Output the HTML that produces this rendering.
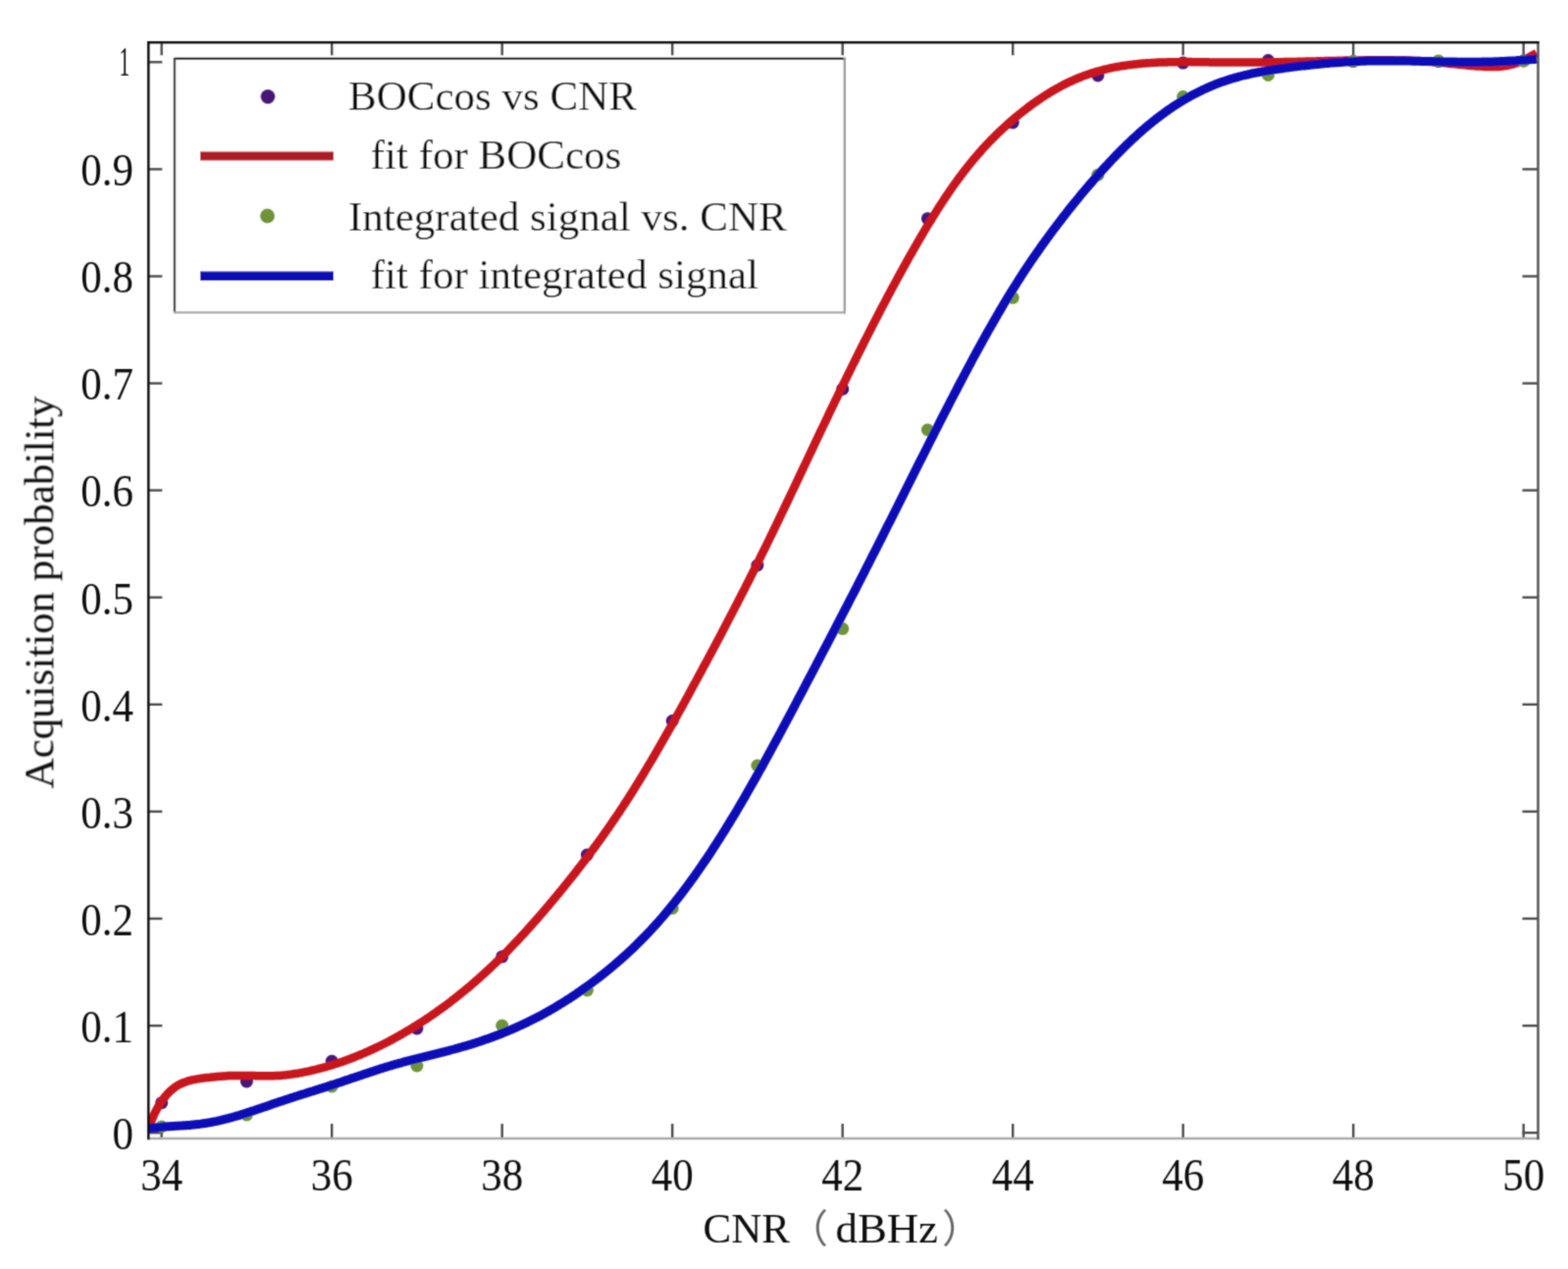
<!DOCTYPE html><html><head><meta charset="utf-8"><style>html,body{margin:0;padding:0;background:#fff;}svg{display:block;}</style></head><body>
<svg width="1598" height="1293" viewBox="0 0 1598 1293">
<rect width="1598" height="1293" fill="#fff"/>
<filter id="soft" x="0" y="0" width="1598" height="1293" filterUnits="userSpaceOnUse"><feConvolveMatrix order="3" kernelMatrix="0.04 0.1 0.04 0.1 0.44 0.1 0.04 0.1 0.04" edgeMode="duplicate" preserveAlpha="false"/></filter>
<g filter="url(#soft)">
<defs><clipPath id="ax"><rect x="151.3" y="43.3" width="1416.2" height="1116.7"/></clipPath></defs>
<g stroke="#4a4a4a" stroke-width="2.4"><line x1="151.3" y1="1154.2" x2="165.3" y2="1154.2"/><line x1="1567.5" y1="1154.2" x2="1551.5" y2="1154.2"/><line x1="151.3" y1="1045.1" x2="165.3" y2="1045.1"/><line x1="1567.5" y1="1045.1" x2="1551.5" y2="1045.1"/><line x1="151.3" y1="936.0" x2="165.3" y2="936.0"/><line x1="1567.5" y1="936.0" x2="1551.5" y2="936.0"/><line x1="151.3" y1="826.9" x2="165.3" y2="826.9"/><line x1="1567.5" y1="826.9" x2="1551.5" y2="826.9"/><line x1="151.3" y1="717.8" x2="165.3" y2="717.8"/><line x1="1567.5" y1="717.8" x2="1551.5" y2="717.8"/><line x1="151.3" y1="608.7" x2="165.3" y2="608.7"/><line x1="1567.5" y1="608.7" x2="1551.5" y2="608.7"/><line x1="151.3" y1="499.6" x2="165.3" y2="499.6"/><line x1="1567.5" y1="499.6" x2="1551.5" y2="499.6"/><line x1="151.3" y1="390.6" x2="165.3" y2="390.6"/><line x1="1567.5" y1="390.6" x2="1551.5" y2="390.6"/><line x1="151.3" y1="281.5" x2="165.3" y2="281.5"/><line x1="1567.5" y1="281.5" x2="1551.5" y2="281.5"/><line x1="151.3" y1="172.4" x2="165.3" y2="172.4"/><line x1="1567.5" y1="172.4" x2="1551.5" y2="172.4"/><line x1="151.3" y1="63.3" x2="165.3" y2="63.3"/><line x1="1567.5" y1="63.3" x2="1551.5" y2="63.3"/><line x1="164.7" y1="1160.0" x2="164.7" y2="1145.0"/><line x1="164.7" y1="43.3" x2="164.7" y2="56.3"/><line x1="338.2" y1="1160.0" x2="338.2" y2="1145.0"/><line x1="338.2" y1="43.3" x2="338.2" y2="56.3"/><line x1="511.7" y1="1160.0" x2="511.7" y2="1145.0"/><line x1="511.7" y1="43.3" x2="511.7" y2="56.3"/><line x1="685.2" y1="1160.0" x2="685.2" y2="1145.0"/><line x1="685.2" y1="43.3" x2="685.2" y2="56.3"/><line x1="858.7" y1="1160.0" x2="858.7" y2="1145.0"/><line x1="858.7" y1="43.3" x2="858.7" y2="56.3"/><line x1="1032.2" y1="1160.0" x2="1032.2" y2="1145.0"/><line x1="1032.2" y1="43.3" x2="1032.2" y2="56.3"/><line x1="1205.7" y1="1160.0" x2="1205.7" y2="1145.0"/><line x1="1205.7" y1="43.3" x2="1205.7" y2="56.3"/><line x1="1379.2" y1="1160.0" x2="1379.2" y2="1145.0"/><line x1="1379.2" y1="43.3" x2="1379.2" y2="56.3"/><line x1="1552.7" y1="1160.0" x2="1552.7" y2="1145.0"/><line x1="1552.7" y1="43.3" x2="1552.7" y2="56.3"/></g>
<g clip-path="url(#ax)">
<g fill="#4a1478"><circle cx="164.7" cy="1123.7" r="6.5"/><circle cx="251.4" cy="1102.0" r="6.5"/><circle cx="338.2" cy="1081.3" r="6.5"/><circle cx="424.9" cy="1048.0" r="6.5"/><circle cx="511.7" cy="974.8" r="6.5"/><circle cx="598.4" cy="871.0" r="6.5"/><circle cx="685.2" cy="734.5" r="6.5"/><circle cx="771.9" cy="576.0" r="6.5"/><circle cx="858.7" cy="396.4" r="6.5"/><circle cx="945.4" cy="222.7" r="6.5"/><circle cx="1032.2" cy="125.0" r="6.5"/><circle cx="1118.9" cy="77.0" r="6.5"/><circle cx="1205.7" cy="64.1" r="6.5"/><circle cx="1292.4" cy="61.5" r="6.5"/><circle cx="1379.2" cy="62.5" r="6.5"/><circle cx="1465.9" cy="62.5" r="6.5"/><circle cx="1552.7" cy="62.0" r="6.5"/></g>
<path d="M151.0 1152.0 L153.0 1145.6 L155.0 1140.2 L157.0 1135.6 L159.0 1131.6 L161.0 1128.0 L163.0 1124.7 L165.0 1121.7 L167.0 1119.0 L169.0 1116.5 L171.0 1114.2 L173.0 1112.2 L175.0 1110.4 L177.0 1108.7 L179.0 1107.3 L181.0 1106.0 L183.0 1104.9 L185.0 1104.0 L187.0 1103.1 L189.0 1102.4 L191.0 1101.7 L193.0 1101.2 L195.0 1100.7 L197.0 1100.2 L199.0 1099.8 L201.0 1099.4 L203.0 1099.1 L205.0 1098.8 L207.0 1098.6 L209.0 1098.3 L211.0 1098.1 L213.0 1097.9 L215.0 1097.6 L217.0 1097.4 L219.0 1097.2 L221.0 1097.0 L223.0 1096.8 L225.0 1096.7 L227.0 1096.5 L229.0 1096.4 L231.0 1096.3 L233.0 1096.1 L235.0 1096.0 L237.0 1096.0 L239.0 1095.9 L241.0 1095.9 L243.0 1095.9 L245.0 1095.9 L247.0 1095.9 L249.0 1095.9 L251.0 1095.9 L253.0 1096.0 L255.0 1096.0 L257.0 1096.1 L259.0 1096.1 L261.0 1096.2 L263.0 1096.2 L265.0 1096.3 L267.0 1096.3 L269.0 1096.3 L271.0 1096.3 L273.0 1096.3 L275.0 1096.3 L277.0 1096.3 L279.0 1096.2 L281.0 1096.1 L283.0 1096.0 L285.0 1095.9 L287.0 1095.7 L289.0 1095.6 L291.0 1095.4 L293.0 1095.1 L295.0 1094.9 L297.0 1094.6 L299.0 1094.3 L301.0 1094.0 L303.0 1093.7 L305.0 1093.4 L307.0 1093.0 L309.0 1092.6 L311.0 1092.2 L313.0 1091.8 L315.0 1091.4 L317.0 1090.9 L319.0 1090.4 L321.0 1090.0 L323.0 1089.5 L325.0 1088.9 L327.0 1088.4 L329.0 1087.9 L331.0 1087.3 L333.0 1086.8 L335.0 1086.2 L337.0 1085.6 L339.0 1085.0 L341.0 1084.3 L343.0 1083.7 L345.0 1083.0 L347.0 1082.4 L349.0 1081.7 L351.0 1081.0 L353.0 1080.2 L355.0 1079.5 L357.0 1078.8 L359.0 1078.0 L361.0 1077.2 L363.0 1076.4 L365.0 1075.6 L367.0 1074.8 L369.0 1073.9 L371.0 1073.1 L373.0 1072.2 L375.0 1071.3 L377.0 1070.4 L379.0 1069.5 L381.0 1068.6 L383.0 1067.6 L385.0 1066.7 L387.0 1065.7 L389.0 1064.7 L391.0 1063.7 L393.0 1062.7 L395.0 1061.7 L397.0 1060.6 L399.0 1059.6 L401.0 1058.5 L403.0 1057.4 L405.0 1056.3 L407.0 1055.2 L409.0 1054.0 L411.0 1052.9 L413.0 1051.7 L415.0 1050.5 L417.0 1049.3 L419.0 1048.1 L421.0 1046.9 L423.0 1045.6 L425.0 1044.4 L427.0 1043.1 L429.0 1041.8 L431.0 1040.5 L433.0 1039.2 L435.0 1037.9 L437.0 1036.5 L439.0 1035.2 L441.0 1033.8 L443.0 1032.4 L445.0 1031.0 L447.0 1029.6 L449.0 1028.2 L451.0 1026.7 L453.0 1025.3 L455.0 1023.8 L457.0 1022.3 L459.0 1020.8 L461.0 1019.2 L463.0 1017.7 L465.0 1016.1 L467.0 1014.5 L469.0 1012.9 L471.0 1011.3 L473.0 1009.7 L475.0 1008.0 L477.0 1006.4 L479.0 1004.7 L481.0 1003.0 L483.0 1001.3 L485.0 999.5 L487.0 997.8 L489.0 996.0 L491.0 994.2 L493.0 992.4 L495.0 990.5 L497.0 988.7 L499.0 986.8 L501.0 984.9 L503.0 983.0 L505.0 981.1 L507.0 979.2 L509.0 977.2 L511.0 975.2 L513.0 973.2 L515.0 971.2 L517.0 969.2 L519.0 967.1 L521.0 965.0 L523.0 962.9 L525.0 960.8 L527.0 958.7 L529.0 956.6 L531.0 954.4 L533.0 952.3 L535.0 950.1 L537.0 947.9 L539.0 945.7 L541.0 943.4 L543.0 941.2 L545.0 938.9 L547.0 936.6 L549.0 934.4 L551.0 932.0 L553.0 929.7 L555.0 927.4 L557.0 925.0 L559.0 922.7 L561.0 920.3 L563.0 917.9 L565.0 915.5 L567.0 913.1 L569.0 910.7 L571.0 908.3 L573.0 905.8 L575.0 903.3 L577.0 900.9 L579.0 898.4 L581.0 895.9 L583.0 893.4 L585.0 890.8 L587.0 888.3 L589.0 885.7 L591.0 883.1 L593.0 880.5 L595.0 877.9 L597.0 875.3 L599.0 872.7 L601.0 870.0 L603.0 867.3 L605.0 864.6 L607.0 861.9 L609.0 859.1 L611.0 856.4 L613.0 853.6 L615.0 850.8 L617.0 848.0 L619.0 845.1 L621.0 842.3 L623.0 839.4 L625.0 836.4 L627.0 833.5 L629.0 830.5 L631.0 827.6 L633.0 824.5 L635.0 821.5 L637.0 818.4 L639.0 815.4 L641.0 812.2 L643.0 809.1 L645.0 805.9 L647.0 802.7 L649.0 799.5 L651.0 796.3 L653.0 793.0 L655.0 789.7 L657.0 786.4 L659.0 783.1 L661.0 779.7 L663.0 776.4 L665.0 773.0 L667.0 769.6 L669.0 766.1 L671.0 762.7 L673.0 759.2 L675.0 755.7 L677.0 752.2 L679.0 748.7 L681.0 745.2 L683.0 741.6 L685.0 738.1 L687.0 734.5 L689.0 730.9 L691.0 727.3 L693.0 723.7 L695.0 720.1 L697.0 716.5 L699.0 712.8 L701.0 709.2 L703.0 705.5 L705.0 701.8 L707.0 698.1 L709.0 694.5 L711.0 690.8 L713.0 687.1 L715.0 683.4 L717.0 679.6 L719.0 675.9 L721.0 672.2 L723.0 668.5 L725.0 664.7 L727.0 661.0 L729.0 657.2 L731.0 653.4 L733.0 649.7 L735.0 645.9 L737.0 642.1 L739.0 638.3 L741.0 634.4 L743.0 630.6 L745.0 626.8 L747.0 622.9 L749.0 619.1 L751.0 615.2 L753.0 611.3 L755.0 607.4 L757.0 603.5 L759.0 599.6 L761.0 595.6 L763.0 591.7 L765.0 587.7 L767.0 583.8 L769.0 579.8 L771.0 575.8 L773.0 571.8 L775.0 567.7 L777.0 563.7 L779.0 559.6 L781.0 555.6 L783.0 551.5 L785.0 547.4 L787.0 543.3 L789.0 539.1 L791.0 535.0 L793.0 530.8 L795.0 526.7 L797.0 522.5 L799.0 518.3 L801.0 514.1 L803.0 509.9 L805.0 505.7 L807.0 501.5 L809.0 497.3 L811.0 493.1 L813.0 488.9 L815.0 484.7 L817.0 480.4 L819.0 476.2 L821.0 472.0 L823.0 467.7 L825.0 463.5 L827.0 459.3 L829.0 455.1 L831.0 450.8 L833.0 446.6 L835.0 442.4 L837.0 438.2 L839.0 434.0 L841.0 429.8 L843.0 425.6 L845.0 421.4 L847.0 417.2 L849.0 413.1 L851.0 408.9 L853.0 404.8 L855.0 400.6 L857.0 396.5 L859.0 392.4 L861.0 388.3 L863.0 384.2 L865.0 380.1 L867.0 376.1 L869.0 372.0 L871.0 368.0 L873.0 364.0 L875.0 360.0 L877.0 356.0 L879.0 352.0 L881.0 348.0 L883.0 344.1 L885.0 340.1 L887.0 336.2 L889.0 332.3 L891.0 328.4 L893.0 324.5 L895.0 320.7 L897.0 316.8 L899.0 313.0 L901.0 309.2 L903.0 305.4 L905.0 301.6 L907.0 297.9 L909.0 294.1 L911.0 290.4 L913.0 286.7 L915.0 283.0 L917.0 279.4 L919.0 275.7 L921.0 272.1 L923.0 268.5 L925.0 264.9 L927.0 261.3 L929.0 257.8 L931.0 254.3 L933.0 250.8 L935.0 247.3 L937.0 243.9 L939.0 240.5 L941.0 237.1 L943.0 233.7 L945.0 230.4 L947.0 227.1 L949.0 223.9 L951.0 220.6 L953.0 217.4 L955.0 214.3 L957.0 211.1 L959.0 208.0 L961.0 205.0 L963.0 201.9 L965.0 199.0 L967.0 196.0 L969.0 193.1 L971.0 190.2 L973.0 187.4 L975.0 184.6 L977.0 181.9 L979.0 179.2 L981.0 176.5 L983.0 173.9 L985.0 171.4 L987.0 168.8 L989.0 166.4 L991.0 163.9 L993.0 161.5 L995.0 159.2 L997.0 156.9 L999.0 154.6 L1001.0 152.3 L1003.0 150.1 L1005.0 148.0 L1007.0 145.9 L1009.0 143.8 L1011.0 141.7 L1013.0 139.7 L1015.0 137.7 L1017.0 135.8 L1019.0 133.8 L1021.0 132.0 L1023.0 130.1 L1025.0 128.3 L1027.0 126.5 L1029.0 124.7 L1031.0 123.0 L1033.0 121.3 L1035.0 119.6 L1037.0 117.9 L1039.0 116.3 L1041.0 114.7 L1043.0 113.1 L1045.0 111.6 L1047.0 110.0 L1049.0 108.5 L1051.0 107.0 L1053.0 105.6 L1055.0 104.2 L1057.0 102.8 L1059.0 101.4 L1061.0 100.0 L1063.0 98.7 L1065.0 97.4 L1067.0 96.2 L1069.0 94.9 L1071.0 93.7 L1073.0 92.5 L1075.0 91.3 L1077.0 90.2 L1079.0 89.1 L1081.0 88.0 L1083.0 86.9 L1085.0 85.9 L1087.0 84.9 L1089.0 83.9 L1091.0 83.0 L1093.0 82.1 L1095.0 81.2 L1097.0 80.3 L1099.0 79.5 L1101.0 78.7 L1103.0 77.9 L1105.0 77.1 L1107.0 76.4 L1109.0 75.7 L1111.0 75.0 L1113.0 74.4 L1115.0 73.7 L1117.0 73.1 L1119.0 72.5 L1121.0 72.0 L1123.0 71.5 L1125.0 70.9 L1127.0 70.5 L1129.0 70.0 L1131.0 69.5 L1133.0 69.1 L1135.0 68.7 L1137.0 68.3 L1139.0 68.0 L1141.0 67.6 L1143.0 67.3 L1145.0 67.0 L1147.0 66.7 L1149.0 66.4 L1151.0 66.1 L1153.0 65.9 L1155.0 65.6 L1157.0 65.4 L1159.0 65.2 L1161.0 65.0 L1163.0 64.8 L1165.0 64.6 L1167.0 64.5 L1169.0 64.3 L1171.0 64.2 L1173.0 64.1 L1175.0 63.9 L1177.0 63.8 L1179.0 63.7 L1181.0 63.6 L1183.0 63.6 L1185.0 63.5 L1187.0 63.4 L1189.0 63.4 L1191.0 63.3 L1193.0 63.3 L1195.0 63.2 L1197.0 63.2 L1199.0 63.2 L1201.0 63.2 L1203.0 63.1 L1205.0 63.1 L1207.0 63.1 L1209.0 63.1 L1211.0 63.1 L1213.0 63.1 L1215.0 63.2 L1217.0 63.2 L1219.0 63.2 L1221.0 63.2 L1223.0 63.2 L1225.0 63.3 L1227.0 63.3 L1229.0 63.3 L1231.0 63.3 L1233.0 63.4 L1235.0 63.4 L1237.0 63.4 L1239.0 63.5 L1241.0 63.5 L1243.0 63.5 L1245.0 63.5 L1247.0 63.5 L1249.0 63.6 L1251.0 63.6 L1253.0 63.6 L1255.0 63.6 L1257.0 63.6 L1259.0 63.6 L1261.0 63.6 L1263.0 63.6 L1265.0 63.6 L1267.0 63.6 L1269.0 63.6 L1271.0 63.6 L1273.0 63.6 L1275.0 63.6 L1277.0 63.6 L1279.0 63.6 L1281.0 63.5 L1283.0 63.5 L1285.0 63.5 L1287.0 63.5 L1289.0 63.5 L1291.0 63.4 L1293.0 63.4 L1295.0 63.4 L1297.0 63.3 L1299.0 63.3 L1301.0 63.3 L1303.0 63.2 L1305.0 63.2 L1307.0 63.2 L1309.0 63.1 L1311.0 63.1 L1313.0 63.0 L1315.0 63.0 L1317.0 62.9 L1319.0 62.9 L1321.0 62.9 L1323.0 62.8 L1325.0 62.8 L1327.0 62.7 L1329.0 62.7 L1331.0 62.6 L1333.0 62.6 L1335.0 62.5 L1337.0 62.5 L1339.0 62.4 L1341.0 62.4 L1343.0 62.3 L1345.0 62.3 L1347.0 62.2 L1349.0 62.2 L1351.0 62.1 L1353.0 62.1 L1355.0 62.0 L1357.0 62.0 L1359.0 61.9 L1361.0 61.9 L1363.0 61.8 L1365.0 61.8 L1367.0 61.7 L1369.0 61.7 L1371.0 61.6 L1373.0 61.6 L1375.0 61.6 L1377.0 61.5 L1379.0 61.5 L1381.0 61.5 L1383.0 61.4 L1385.0 61.4 L1387.0 61.4 L1389.0 61.4 L1391.0 61.3 L1393.0 61.3 L1395.0 61.3 L1397.0 61.3 L1399.0 61.3 L1401.0 61.3 L1403.0 61.2 L1405.0 61.2 L1407.0 61.2 L1409.0 61.2 L1411.0 61.3 L1413.0 61.3 L1415.0 61.3 L1417.0 61.3 L1419.0 61.3 L1421.0 61.4 L1423.0 61.4 L1425.0 61.4 L1427.0 61.5 L1429.0 61.5 L1431.0 61.6 L1433.0 61.6 L1435.0 61.7 L1437.0 61.8 L1439.0 61.8 L1441.0 61.9 L1443.0 62.0 L1445.0 62.1 L1447.0 62.2 L1449.0 62.3 L1451.0 62.5 L1453.0 62.6 L1455.0 62.7 L1457.0 62.9 L1459.0 63.0 L1461.0 63.2 L1463.0 63.4 L1465.0 63.5 L1467.0 63.7 L1469.0 63.9 L1471.0 64.1 L1473.0 64.3 L1475.0 64.5 L1477.0 64.7 L1479.0 64.9 L1481.0 65.1 L1483.0 65.3 L1485.0 65.5 L1487.0 65.7 L1489.0 65.9 L1491.0 66.1 L1493.0 66.3 L1495.0 66.5 L1497.0 66.7 L1499.0 66.9 L1501.0 67.0 L1503.0 67.2 L1505.0 67.4 L1507.0 67.5 L1509.0 67.6 L1511.0 67.8 L1513.0 67.9 L1515.0 68.0 L1517.0 68.0 L1519.0 68.1 L1521.0 68.1 L1523.0 68.1 L1525.0 68.0 L1527.0 67.9 L1529.0 67.8 L1531.0 67.6 L1533.0 67.3 L1535.0 67.0 L1537.0 66.6 L1539.0 66.2 L1541.0 65.7 L1543.0 65.1 L1545.0 64.4 L1547.0 63.7 L1549.0 62.9 L1551.0 62.0 L1553.0 61.0 L1555.0 60.0 L1557.0 59.0 L1559.0 57.9 L1561.0 56.8 L1563.0 55.7 L1565.0 54.6 L1566.0 54.0" fill="none" stroke="#c8121f" stroke-width="8.5" stroke-linejoin="round"/>
<g fill="#6e9438"><circle cx="164.7" cy="1148.0" r="6.5"/><circle cx="251.4" cy="1136.0" r="6.5"/><circle cx="338.2" cy="1107.0" r="6.5"/><circle cx="424.9" cy="1086.0" r="6.5"/><circle cx="511.7" cy="1045.0" r="6.5"/><circle cx="598.4" cy="1009.0" r="6.5"/><circle cx="685.2" cy="925.5" r="6.5"/><circle cx="771.9" cy="780.0" r="6.5"/><circle cx="858.7" cy="640.6" r="6.5"/><circle cx="945.4" cy="438.0" r="6.5"/><circle cx="1032.2" cy="303.3" r="6.5"/><circle cx="1118.9" cy="178.2" r="6.5"/><circle cx="1205.7" cy="98.5" r="6.5"/><circle cx="1292.4" cy="76.5" r="6.5"/><circle cx="1379.2" cy="62.5" r="6.5"/><circle cx="1465.9" cy="62.1" r="6.5"/><circle cx="1552.7" cy="62.0" r="6.5"/></g>
<path d="M151.0 1149.7 L153.0 1149.5 L155.0 1149.3 L157.0 1149.1 L159.0 1148.9 L161.0 1148.7 L163.0 1148.5 L165.0 1148.3 L167.0 1148.1 L169.0 1148.0 L171.0 1147.8 L173.0 1147.7 L175.0 1147.5 L177.0 1147.4 L179.0 1147.3 L181.0 1147.2 L183.0 1147.1 L185.0 1146.9 L187.0 1146.8 L189.0 1146.7 L191.0 1146.5 L193.0 1146.4 L195.0 1146.2 L197.0 1146.0 L199.0 1145.8 L201.0 1145.6 L203.0 1145.4 L205.0 1145.1 L207.0 1144.8 L209.0 1144.5 L211.0 1144.2 L213.0 1143.8 L215.0 1143.5 L217.0 1143.1 L219.0 1142.7 L221.0 1142.3 L223.0 1141.8 L225.0 1141.4 L227.0 1140.9 L229.0 1140.4 L231.0 1139.9 L233.0 1139.4 L235.0 1138.8 L237.0 1138.3 L239.0 1137.7 L241.0 1137.1 L243.0 1136.6 L245.0 1136.0 L247.0 1135.3 L249.0 1134.7 L251.0 1134.1 L253.0 1133.4 L255.0 1132.8 L257.0 1132.1 L259.0 1131.5 L261.0 1130.8 L263.0 1130.1 L265.0 1129.4 L267.0 1128.8 L269.0 1128.1 L271.0 1127.4 L273.0 1126.7 L275.0 1126.0 L277.0 1125.3 L279.0 1124.6 L281.0 1123.9 L283.0 1123.3 L285.0 1122.6 L287.0 1121.9 L289.0 1121.2 L291.0 1120.6 L293.0 1119.9 L295.0 1119.2 L297.0 1118.6 L299.0 1118.0 L301.0 1117.3 L303.0 1116.7 L305.0 1116.0 L307.0 1115.4 L309.0 1114.8 L311.0 1114.2 L313.0 1113.5 L315.0 1112.9 L317.0 1112.3 L319.0 1111.7 L321.0 1111.0 L323.0 1110.4 L325.0 1109.8 L327.0 1109.1 L329.0 1108.5 L331.0 1107.9 L333.0 1107.2 L335.0 1106.6 L337.0 1106.0 L339.0 1105.3 L341.0 1104.7 L343.0 1104.0 L345.0 1103.3 L347.0 1102.7 L349.0 1102.0 L351.0 1101.3 L353.0 1100.6 L355.0 1100.0 L357.0 1099.3 L359.0 1098.6 L361.0 1097.9 L363.0 1097.2 L365.0 1096.6 L367.0 1095.9 L369.0 1095.2 L371.0 1094.5 L373.0 1093.9 L375.0 1093.2 L377.0 1092.5 L379.0 1091.9 L381.0 1091.2 L383.0 1090.6 L385.0 1089.9 L387.0 1089.3 L389.0 1088.6 L391.0 1088.0 L393.0 1087.4 L395.0 1086.8 L397.0 1086.2 L399.0 1085.6 L401.0 1085.0 L403.0 1084.4 L405.0 1083.9 L407.0 1083.3 L409.0 1082.8 L411.0 1082.2 L413.0 1081.7 L415.0 1081.2 L417.0 1080.6 L419.0 1080.1 L421.0 1079.6 L423.0 1079.1 L425.0 1078.6 L427.0 1078.1 L429.0 1077.6 L431.0 1077.1 L433.0 1076.6 L435.0 1076.1 L437.0 1075.6 L439.0 1075.1 L441.0 1074.6 L443.0 1074.1 L445.0 1073.6 L447.0 1073.1 L449.0 1072.6 L451.0 1072.1 L453.0 1071.6 L455.0 1071.1 L457.0 1070.6 L459.0 1070.0 L461.0 1069.5 L463.0 1069.0 L465.0 1068.4 L467.0 1067.9 L469.0 1067.3 L471.0 1066.7 L473.0 1066.2 L475.0 1065.6 L477.0 1065.0 L479.0 1064.4 L481.0 1063.7 L483.0 1063.1 L485.0 1062.5 L487.0 1061.8 L489.0 1061.2 L491.0 1060.5 L493.0 1059.8 L495.0 1059.1 L497.0 1058.4 L499.0 1057.7 L501.0 1057.0 L503.0 1056.2 L505.0 1055.5 L507.0 1054.7 L509.0 1054.0 L511.0 1053.2 L513.0 1052.4 L515.0 1051.6 L517.0 1050.7 L519.0 1049.9 L521.0 1049.1 L523.0 1048.2 L525.0 1047.3 L527.0 1046.4 L529.0 1045.5 L531.0 1044.6 L533.0 1043.7 L535.0 1042.7 L537.0 1041.8 L539.0 1040.8 L541.0 1039.8 L543.0 1038.8 L545.0 1037.8 L547.0 1036.8 L549.0 1035.7 L551.0 1034.7 L553.0 1033.6 L555.0 1032.5 L557.0 1031.4 L559.0 1030.3 L561.0 1029.1 L563.0 1028.0 L565.0 1026.8 L567.0 1025.6 L569.0 1024.4 L571.0 1023.2 L573.0 1022.0 L575.0 1020.7 L577.0 1019.4 L579.0 1018.2 L581.0 1016.9 L583.0 1015.6 L585.0 1014.2 L587.0 1012.9 L589.0 1011.5 L591.0 1010.1 L593.0 1008.7 L595.0 1007.3 L597.0 1005.9 L599.0 1004.5 L601.0 1003.0 L603.0 1001.5 L605.0 1000.0 L607.0 998.5 L609.0 997.0 L611.0 995.4 L613.0 993.9 L615.0 992.3 L617.0 990.7 L619.0 989.1 L621.0 987.4 L623.0 985.8 L625.0 984.1 L627.0 982.4 L629.0 980.7 L631.0 978.9 L633.0 977.2 L635.0 975.4 L637.0 973.6 L639.0 971.8 L641.0 969.9 L643.0 968.1 L645.0 966.2 L647.0 964.2 L649.0 962.3 L651.0 960.3 L653.0 958.3 L655.0 956.3 L657.0 954.3 L659.0 952.2 L661.0 950.1 L663.0 948.0 L665.0 945.8 L667.0 943.6 L669.0 941.4 L671.0 939.2 L673.0 936.9 L675.0 934.6 L677.0 932.3 L679.0 929.9 L681.0 927.5 L683.0 925.1 L685.0 922.6 L687.0 920.2 L689.0 917.6 L691.0 915.1 L693.0 912.5 L695.0 909.9 L697.0 907.3 L699.0 904.6 L701.0 901.9 L703.0 899.2 L705.0 896.4 L707.0 893.7 L709.0 890.9 L711.0 888.0 L713.0 885.2 L715.0 882.3 L717.0 879.3 L719.0 876.4 L721.0 873.4 L723.0 870.4 L725.0 867.4 L727.0 864.3 L729.0 861.3 L731.0 858.1 L733.0 855.0 L735.0 851.9 L737.0 848.7 L739.0 845.5 L741.0 842.2 L743.0 839.0 L745.0 835.7 L747.0 832.4 L749.0 829.1 L751.0 825.7 L753.0 822.3 L755.0 818.9 L757.0 815.5 L759.0 812.1 L761.0 808.6 L763.0 805.1 L765.0 801.6 L767.0 798.1 L769.0 794.5 L771.0 791.0 L773.0 787.4 L775.0 783.8 L777.0 780.2 L779.0 776.6 L781.0 772.9 L783.0 769.3 L785.0 765.6 L787.0 761.9 L789.0 758.2 L791.0 754.5 L793.0 750.8 L795.0 747.1 L797.0 743.4 L799.0 739.6 L801.0 735.9 L803.0 732.1 L805.0 728.3 L807.0 724.6 L809.0 720.8 L811.0 717.0 L813.0 713.2 L815.0 709.4 L817.0 705.6 L819.0 701.8 L821.0 698.0 L823.0 694.2 L825.0 690.4 L827.0 686.6 L829.0 682.8 L831.0 679.0 L833.0 675.2 L835.0 671.4 L837.0 667.5 L839.0 663.7 L841.0 659.9 L843.0 656.1 L845.0 652.2 L847.0 648.4 L849.0 644.6 L851.0 640.7 L853.0 636.9 L855.0 633.0 L857.0 629.2 L859.0 625.3 L861.0 621.4 L863.0 617.6 L865.0 613.7 L867.0 609.8 L869.0 606.0 L871.0 602.1 L873.0 598.2 L875.0 594.3 L877.0 590.4 L879.0 586.5 L881.0 582.6 L883.0 578.6 L885.0 574.7 L887.0 570.8 L889.0 566.8 L891.0 562.9 L893.0 559.0 L895.0 555.0 L897.0 551.0 L899.0 547.1 L901.0 543.1 L903.0 539.1 L905.0 535.1 L907.0 531.2 L909.0 527.2 L911.0 523.2 L913.0 519.2 L915.0 515.2 L917.0 511.2 L919.0 507.2 L921.0 503.2 L923.0 499.2 L925.0 495.3 L927.0 491.3 L929.0 487.3 L931.0 483.3 L933.0 479.3 L935.0 475.3 L937.0 471.3 L939.0 467.4 L941.0 463.4 L943.0 459.4 L945.0 455.4 L947.0 451.5 L949.0 447.5 L951.0 443.6 L953.0 439.6 L955.0 435.7 L957.0 431.8 L959.0 427.8 L961.0 423.9 L963.0 420.0 L965.0 416.1 L967.0 412.2 L969.0 408.3 L971.0 404.5 L973.0 400.6 L975.0 396.8 L977.0 392.9 L979.0 389.1 L981.0 385.3 L983.0 381.5 L985.0 377.8 L987.0 374.0 L989.0 370.3 L991.0 366.5 L993.0 362.8 L995.0 359.1 L997.0 355.5 L999.0 351.8 L1001.0 348.2 L1003.0 344.6 L1005.0 341.0 L1007.0 337.4 L1009.0 333.9 L1011.0 330.4 L1013.0 326.9 L1015.0 323.4 L1017.0 320.0 L1019.0 316.6 L1021.0 313.2 L1023.0 309.8 L1025.0 306.5 L1027.0 303.2 L1029.0 299.9 L1031.0 296.7 L1033.0 293.5 L1035.0 290.3 L1037.0 287.1 L1039.0 284.0 L1041.0 280.9 L1043.0 277.8 L1045.0 274.8 L1047.0 271.8 L1049.0 268.8 L1051.0 265.8 L1053.0 262.9 L1055.0 260.0 L1057.0 257.1 L1059.0 254.3 L1061.0 251.4 L1063.0 248.6 L1065.0 245.8 L1067.0 243.1 L1069.0 240.3 L1071.0 237.6 L1073.0 234.9 L1075.0 232.3 L1077.0 229.6 L1079.0 227.0 L1081.0 224.4 L1083.0 221.8 L1085.0 219.2 L1087.0 216.7 L1089.0 214.1 L1091.0 211.6 L1093.0 209.1 L1095.0 206.7 L1097.0 204.2 L1099.0 201.8 L1101.0 199.3 L1103.0 196.9 L1105.0 194.6 L1107.0 192.2 L1109.0 189.8 L1111.0 187.5 L1113.0 185.2 L1115.0 182.9 L1117.0 180.6 L1119.0 178.3 L1121.0 176.1 L1123.0 173.8 L1125.0 171.6 L1127.0 169.4 L1129.0 167.3 L1131.0 165.1 L1133.0 163.0 L1135.0 160.9 L1137.0 158.8 L1139.0 156.8 L1141.0 154.7 L1143.0 152.7 L1145.0 150.7 L1147.0 148.8 L1149.0 146.8 L1151.0 144.9 L1153.0 143.0 L1155.0 141.1 L1157.0 139.3 L1159.0 137.5 L1161.0 135.7 L1163.0 133.9 L1165.0 132.1 L1167.0 130.4 L1169.0 128.7 L1171.0 127.0 L1173.0 125.4 L1175.0 123.8 L1177.0 122.2 L1179.0 120.6 L1181.0 119.1 L1183.0 117.6 L1185.0 116.1 L1187.0 114.7 L1189.0 113.2 L1191.0 111.8 L1193.0 110.5 L1195.0 109.1 L1197.0 107.8 L1199.0 106.5 L1201.0 105.2 L1203.0 104.0 L1205.0 102.7 L1207.0 101.5 L1209.0 100.4 L1211.0 99.2 L1213.0 98.1 L1215.0 97.0 L1217.0 95.9 L1219.0 94.9 L1221.0 93.9 L1223.0 92.9 L1225.0 91.9 L1227.0 91.0 L1229.0 90.1 L1231.0 89.2 L1233.0 88.3 L1235.0 87.5 L1237.0 86.6 L1239.0 85.8 L1241.0 85.1 L1243.0 84.3 L1245.0 83.6 L1247.0 82.9 L1249.0 82.2 L1251.0 81.6 L1253.0 80.9 L1255.0 80.3 L1257.0 79.7 L1259.0 79.1 L1261.0 78.6 L1263.0 78.0 L1265.0 77.5 L1267.0 77.0 L1269.0 76.5 L1271.0 76.1 L1273.0 75.6 L1275.0 75.2 L1277.0 74.7 L1279.0 74.3 L1281.0 73.9 L1283.0 73.5 L1285.0 73.2 L1287.0 72.8 L1289.0 72.5 L1291.0 72.1 L1293.0 71.8 L1295.0 71.5 L1297.0 71.1 L1299.0 70.8 L1301.0 70.5 L1303.0 70.2 L1305.0 70.0 L1307.0 69.7 L1309.0 69.4 L1311.0 69.1 L1313.0 68.9 L1315.0 68.6 L1317.0 68.3 L1319.0 68.1 L1321.0 67.8 L1323.0 67.6 L1325.0 67.3 L1327.0 67.1 L1329.0 66.9 L1331.0 66.7 L1333.0 66.4 L1335.0 66.2 L1337.0 66.0 L1339.0 65.8 L1341.0 65.6 L1343.0 65.4 L1345.0 65.2 L1347.0 65.0 L1349.0 64.8 L1351.0 64.6 L1353.0 64.5 L1355.0 64.3 L1357.0 64.1 L1359.0 64.0 L1361.0 63.8 L1363.0 63.7 L1365.0 63.5 L1367.0 63.4 L1369.0 63.3 L1371.0 63.1 L1373.0 63.0 L1375.0 62.9 L1377.0 62.8 L1379.0 62.7 L1381.0 62.6 L1383.0 62.5 L1385.0 62.4 L1387.0 62.3 L1389.0 62.3 L1391.0 62.2 L1393.0 62.1 L1395.0 62.1 L1397.0 62.0 L1399.0 62.0 L1401.0 62.0 L1403.0 61.9 L1405.0 61.9 L1407.0 61.9 L1409.0 61.9 L1411.0 61.9 L1413.0 61.9 L1415.0 61.9 L1417.0 61.9 L1419.0 61.9 L1421.0 61.9 L1423.0 61.9 L1425.0 61.9 L1427.0 62.0 L1429.0 62.0 L1431.0 62.0 L1433.0 62.0 L1435.0 62.1 L1437.0 62.1 L1439.0 62.2 L1441.0 62.2 L1443.0 62.3 L1445.0 62.3 L1447.0 62.3 L1449.0 62.4 L1451.0 62.4 L1453.0 62.5 L1455.0 62.5 L1457.0 62.6 L1459.0 62.6 L1461.0 62.7 L1463.0 62.7 L1465.0 62.8 L1467.0 62.8 L1469.0 62.9 L1471.0 62.9 L1473.0 63.0 L1475.0 63.0 L1477.0 63.0 L1479.0 63.1 L1481.0 63.1 L1483.0 63.1 L1485.0 63.2 L1487.0 63.2 L1489.0 63.2 L1491.0 63.2 L1493.0 63.2 L1495.0 63.2 L1497.0 63.2 L1499.0 63.2 L1501.0 63.2 L1503.0 63.2 L1505.0 63.2 L1507.0 63.2 L1509.0 63.2 L1511.0 63.1 L1513.0 63.1 L1515.0 63.0 L1517.0 63.0 L1519.0 62.9 L1521.0 62.9 L1523.0 62.8 L1525.0 62.7 L1527.0 62.7 L1529.0 62.6 L1531.0 62.5 L1533.0 62.4 L1535.0 62.3 L1537.0 62.2 L1539.0 62.1 L1541.0 62.0 L1543.0 61.9 L1545.0 61.8 L1547.0 61.6 L1549.0 61.5 L1551.0 61.3 L1553.0 61.2 L1555.0 61.0 L1557.0 60.9 L1559.0 60.7 L1561.0 60.6 L1563.0 60.4 L1565.0 60.2 L1566.0 60.1" fill="none" stroke="#1010b8" stroke-width="9" stroke-linejoin="round"/>
</g>
<line x1="151.3" y1="1160.0" x2="1567.5" y2="1160.0" stroke="#aaa" stroke-width="2.5"/>
<line x1="1567.5" y1="43.3" x2="1567.5" y2="1161.2" stroke="#555" stroke-width="2.5"/>
<line x1="150.1" y1="43.3" x2="1568.7" y2="43.3" stroke="#111" stroke-width="2.5"/>
<line x1="151.3" y1="42.1" x2="151.3" y2="1161.2" stroke="#111" stroke-width="2.5"/>
<rect x="178" y="60" width="683" height="258" fill="#fff"/>
<line x1="177" y1="59.8" x2="862" y2="59.8" stroke="#222" stroke-width="2.3"/>
<line x1="178" y1="59" x2="178" y2="319" stroke="#444" stroke-width="2.3"/>
<line x1="860.8" y1="59" x2="860.8" y2="319.5" stroke="#9a9a9a" stroke-width="2.3"/>
<line x1="177" y1="318.3" x2="862" y2="318.3" stroke="#a8a8a8" stroke-width="2.3"/>
<circle cx="273" cy="98.5" r="7.5" fill="#4a1478"/>
<line x1="204" y1="159" x2="340" y2="159" stroke="#ae1c26" stroke-width="9"/>
<circle cx="272.5" cy="220" r="7.5" fill="#6e9438"/>
<line x1="204" y1="281.2" x2="340" y2="281.2" stroke="#0c0cb8" stroke-width="9.5"/>
<g font-family="'Liberation Serif', 'Times New Roman', serif" font-size="43" fill="#111"><text x="355.0" y="112.0" text-anchor="start">BOCcos vs CNR</text><text x="377.7" y="172.0" text-anchor="start">fit for BOCcos</text><text x="355.0" y="234.5" text-anchor="start">Integrated signal vs. CNR</text><text x="377.7" y="294.0" text-anchor="start">fit for integrated signal</text><text transform="translate(136 1156.2) scale(1 1.06)" y="14" text-anchor="end">0</text><text transform="translate(136 1047.1) scale(1 1.06)" y="14" text-anchor="end">0.1</text><text transform="translate(136 938.0) scale(1 1.06)" y="14" text-anchor="end">0.2</text><text transform="translate(136 828.9) scale(1 1.06)" y="14" text-anchor="end">0.3</text><text transform="translate(136 719.8) scale(1 1.06)" y="14" text-anchor="end">0.4</text><text transform="translate(136 610.7) scale(1 1.06)" y="14" text-anchor="end">0.5</text><text transform="translate(136 501.6) scale(1 1.06)" y="14" text-anchor="end">0.6</text><text transform="translate(136 392.6) scale(1 1.06)" y="14" text-anchor="end">0.7</text><text transform="translate(136 283.5) scale(1 1.06)" y="14" text-anchor="end">0.8</text><text transform="translate(136 174.4) scale(1 1.06)" y="14" text-anchor="end">0.9</text><text transform="translate(127 62.8) scale(0.5 1.0)" y="14" text-anchor="middle">1</text><text transform="translate(164.7 1213) scale(1 1.09)" text-anchor="middle">34</text><text transform="translate(338.2 1213) scale(1 1.09)" text-anchor="middle">36</text><text transform="translate(511.7 1213) scale(1 1.09)" text-anchor="middle">38</text><text transform="translate(685.2 1213) scale(1 1.09)" text-anchor="middle">40</text><text transform="translate(858.7 1213) scale(1 1.09)" text-anchor="middle">42</text><text transform="translate(1032.2 1213) scale(1 1.09)" text-anchor="middle">44</text><text transform="translate(1205.7 1213) scale(1 1.09)" text-anchor="middle">46</text><text transform="translate(1379.2 1213) scale(1 1.09)" text-anchor="middle">48</text><text transform="translate(1552.7 1213) scale(1 1.09)" text-anchor="middle">50</text><text y="1266"><tspan x="716.5">CNR</tspan><tspan x="804" font-family="'Noto Sans CJK SC', 'Liberation Serif', sans-serif" font-size="40" fill="#666">（</tspan><tspan x="851.5" textLength="104.5" lengthAdjust="spacingAndGlyphs">dBHz</tspan><tspan x="960" font-family="'Noto Sans CJK SC', 'Liberation Serif', sans-serif" font-size="40" fill="#666">）</tspan></text><text x="0.0" y="0.0" text-anchor="middle" transform="translate(54.4 603.5) rotate(-90)">Acquisition probability</text></g>
</g>
</svg></body></html>
